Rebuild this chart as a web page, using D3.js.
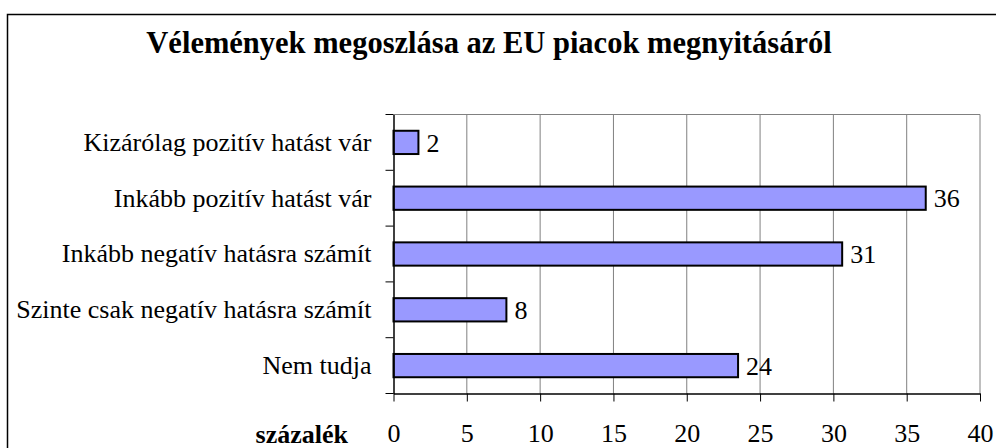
<!DOCTYPE html>
<html>
<head>
<meta charset="utf-8">
<script src="https://cdn.jsdelivr.net/npm/d3@7"></script>
<style>
  body { margin: 0; background: #fff; }
</style>
</head>
<body>
<div id="chart"></div>
<script>
const width = 996, height = 448;

// data
const categories = [
  "Kizárólag pozitív hatást vár",
  "Inkább pozitív hatást vár",
  "Inkább negatív hatásra számít",
  "Szinte csak negatív hatásra számít",
  "Nem tudja"
];
const values = [1.7, 36.3, 30.6, 7.7, 23.5];
const xTicks = [0, 5, 10, 15, 20, 25, 30, 35, 40];
const title = "Vélemények megoszlása az EU piacok megnyitásáról";
const xTitle = "százalék";

const serif = "Liberation Serif";
const fs = "26px";
const plot = { left: 393.5, right: 980, top: 114.5, bottom: 393.5 };

const svg = d3.select("#chart")
  .append("svg")
  .attr("width", width)
  .attr("height", height)
  .attr("viewBox", [0, 0, width, height])
  .style("font-family", serif);

// outer frame (runs off the right and bottom edge)
svg.append("rect")
  .attr("x", 7.5).attr("y", 14.5)
  .attr("width", 1100).attr("height", 600)
  .attr("fill", "none")
  .attr("stroke", "#000")
  .attr("stroke-width", 1.5);

svg.append("text")
  .attr("x", 489).attr("y", 53)
  .attr("text-anchor", "middle")
  .style("font-family", serif)
  .style("font-size", "30.5px")
  .style("font-weight", "bold")
  .text(title);

const x = d3.scaleLinear().domain([0, 40]).range([plot.left, plot.right]);
const y = d3.scaleBand()
  .domain(categories)
  .range([plot.top, plot.bottom])
  .paddingInner(0.583)
  .paddingOuter(0.2915);

// gridlines
svg.append("g")
  .selectAll("line")
  .data(xTicks.slice(1))
  .join("line")
  .attr("x1", d => x(d)).attr("x2", d => x(d))
  .attr("y1", plot.top).attr("y2", plot.bottom)
  .attr("stroke", "#808080")
  .attr("stroke-width", 1);

svg.append("line")
  .attr("x1", plot.left).attr("x2", plot.right)
  .attr("y1", plot.top).attr("y2", plot.top)
  .attr("stroke", "#808080");

// bars
svg.append("g")
  .selectAll("rect")
  .data(values)
  .join("rect")
  .attr("x", x(0))
  .attr("y", (d, i) => y(categories[i]))
  .attr("width", d => x(d) - x(0))
  .attr("height", y.bandwidth())
  .attr("fill", "#9999ff")
  .attr("stroke", "#000")
  .attr("stroke-width", 2);

// value labels
svg.append("g")
  .selectAll("text")
  .data(values)
  .join("text")
  .attr("x", d => x(d) + 8)
  .attr("y", (d, i) => y(categories[i]) + y.bandwidth() / 2)
  .attr("dy", "0.35em")
  .style("font-family", serif)
  .style("font-size", fs)
  .text(d => d3.format(".0f")(d));

// x axis
const xAxis = svg.append("g")
  .attr("transform", `translate(0,${plot.bottom})`)
  .call(d3.axisBottom(x).tickValues(xTicks).tickSize(8).tickPadding(22).tickSizeOuter(0));
xAxis.select(".domain").attr("stroke-width", 1.5);
xAxis.selectAll("text").style("font-family", serif).style("font-size", fs).attr("fill", "#000");

// y axis
const yAxis = svg.append("g")
  .attr("transform", `translate(${plot.left},0)`)
  .call(d3.axisLeft(y).tickSize(0).tickPadding(22));
yAxis.select(".domain").attr("stroke-width", 1.5);
yAxis.selectAll("text").style("font-family", serif).style("font-size", fs).attr("fill", "#000");

// category separators
const bounds = categories.map(c => y(c) - y.paddingOuter() * y.step()).concat([plot.bottom]);
yAxis.append("g")
  .selectAll("line")
  .data(bounds)
  .join("line")
  .attr("x1", -8).attr("x2", 0)
  .attr("y1", d => d).attr("y2", d => d)
  .attr("stroke", "#000");

svg.append("text")
  .attr("x", 348).attr("y", 443)
  .attr("text-anchor", "end")
  .style("font-family", serif)
  .style("font-size", fs)
  .style("font-weight", "bold")
  .text(xTitle);
</script>
</body>
</html>
